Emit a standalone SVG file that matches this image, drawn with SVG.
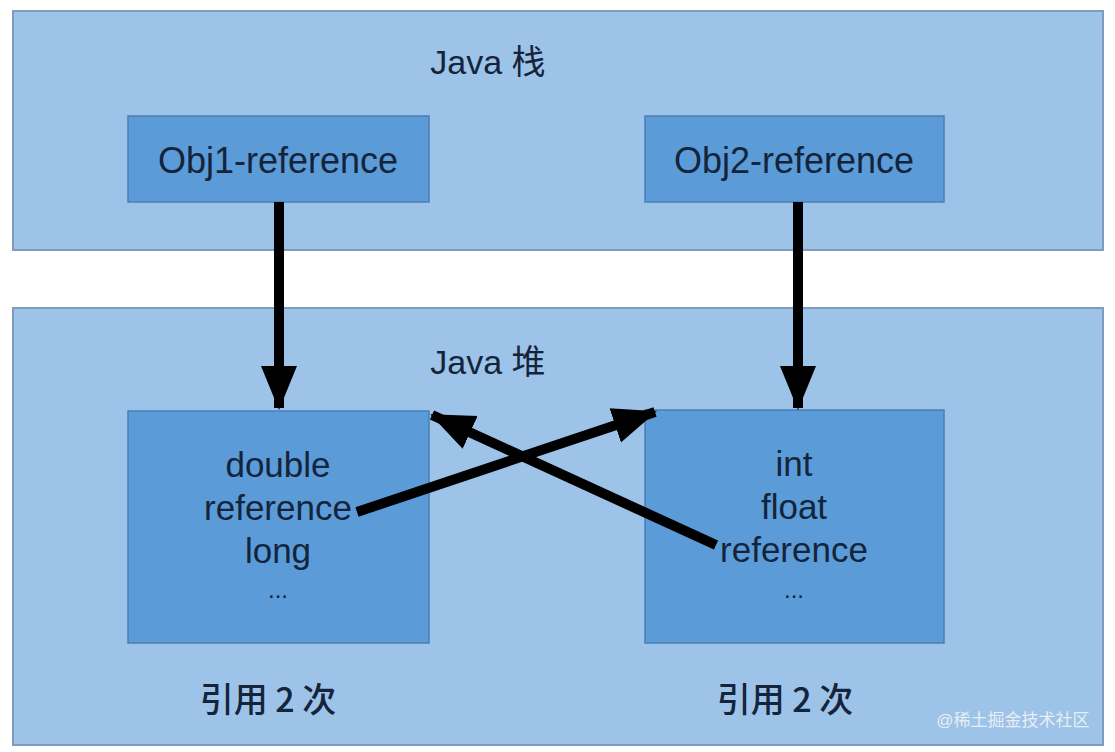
<svg xmlns="http://www.w3.org/2000/svg" width="1115" height="752" viewBox="0 0 1115 752">
<style>
.band{fill:#9dc3e8;stroke:#7f9cbc;stroke-width:2}
.box{fill:#5b9bd8;stroke:#4a7fb5;stroke-width:1.5}
.t{font-family:"Liberation Sans","Noto Sans CJK SC",sans-serif;fill:#14243a;text-anchor:middle}
.cjk{font-family:"Noto Sans CJK SC",sans-serif;fill:#14243a;text-anchor:middle}
.conn{stroke:#000;stroke-width:10;fill:none}
</style>
<defs>
<marker id="ah" markerUnits="userSpaceOnUse" markerWidth="44" markerHeight="40" viewBox="0 0 44 40" refX="42" refY="20" orient="auto">
<path d="M0,2 L44,20 L0,38 Z" fill="#000"/>
</marker>
</defs>
<rect width="1115" height="752" fill="#fff"/>
<g id="stack">
<rect class="band" x="13" y="11" width="1090" height="239"/>
<text class="t" x="488" y="74" font-size="34">Java 栈</text>
</g>
<g id="heap">
<rect class="band" x="13" y="308" width="1090" height="437"/>
<text class="t" x="488" y="374" font-size="34">Java 堆</text>
</g>
<g id="obj1ref">
<rect class="box" x="128" y="116" width="301" height="86"/>
<text class="t" x="278" y="173" font-size="36">Obj1-reference</text>
</g>
<g id="obj2ref">
<rect class="box" x="645" y="116" width="299" height="86"/>
<text class="t" x="794" y="173" font-size="36">Obj2-reference</text>
</g>
<g id="obj1">
<rect class="box" x="128" y="411" width="301" height="232"/>
<text class="t" x="278" y="477" font-size="35">double</text>
<text class="t" x="278" y="520" font-size="35">reference</text>
<text class="t" x="278" y="563" font-size="35">long</text>
<text class="t" x="278" y="598" font-size="24">...</text>
</g>
<g id="obj2">
<rect class="box" x="645" y="410" width="299" height="233"/>
<text class="t" x="794" y="476" font-size="35">int</text>
<text class="t" x="794" y="519" font-size="35">float</text>
<text class="t" x="794" y="562" font-size="35">reference</text>
<text class="t" x="794" y="598" font-size="24">...</text>
</g>
<g id="connectors">
<line class="conn" x1="279" y1="202" x2="279" y2="408" marker-end="url(#ah)"/>
<line class="conn" x1="798" y1="202" x2="798" y2="408" marker-end="url(#ah)"/>
<line class="conn" x1="357" y1="512" x2="655" y2="412" marker-end="url(#ah)"/>
<line class="conn" x1="716" y1="545" x2="432" y2="415" marker-end="url(#ah)"/>
</g>
<g id="labels">
<text class="cjk" x="268" y="712" font-size="34" font-weight="500">引用 2 次</text>
<text class="cjk" x="785" y="712" font-size="34" font-weight="500">引用 2 次</text>
<text class="t" x="1013" y="726" font-size="17" style="fill:#e8eef6">@稀土掘金技术社区</text>
</g>
</svg>
